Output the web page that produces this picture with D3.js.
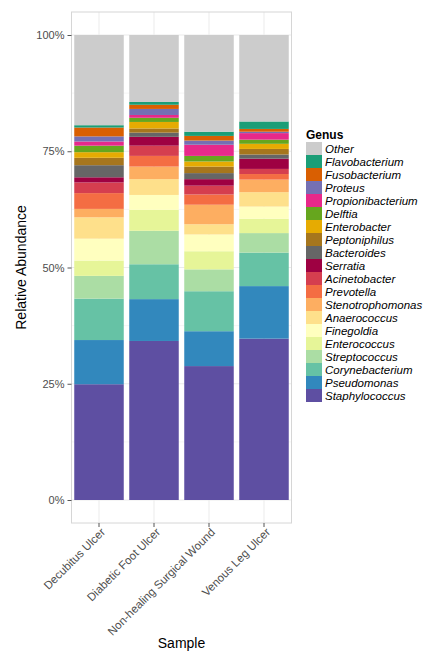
<!DOCTYPE html>
<html>
<head>
<meta charset="utf-8">
<script src="https://cdn.jsdelivr.net/npm/d3@7"></script>
<style>
  body { margin: 0; background: #fff; }
  svg { font-family: "Liberation Sans", Arial, sans-serif; }
</style>
</head>
<body>
<div id="chart"></div>
<script>
const samples = ["Decubitus Ulcer", "Diabetic Foot Ulcer", "Non-healing Surgical Wound", "Venous Leg Ulcer"];

// stacking order, bottom to top
const genera = ["Staphylococcus", "Pseudomonas", "Corynebacterium", "Streptococcus", "Enterococcus",
    "Finegoldia", "Anaerococcus", "Stenotrophomonas", "Prevotella", "Acinetobacter", "Serratia",
    "Bacteroides", "Peptoniphilus", "Enterobacter", "Delftia", "Propionibacterium", "Proteus",
    "Fusobacterium", "Flavobacterium", "Other"];

const generaColors = ["#5E4FA2", "#3288BD", "#66C2A5", "#ABDDA4", "#E6F598",
    "#FFFFBF", "#FEE08B", "#FDAE61", "#F46D43", "#D53E4F", "#9E0142",
    "#666666", "#A6761D", "#E6AB02", "#66A61E", "#E7298A", "#7570B3",
    "#D95F02", "#1B9E77", "#CCCCCC"];

// percent per genus, same order as genera
const decubitus = [24.9, 9.5, 8.9, 4.9, 3.3, 4.7, 4.6, 1.8, 3.4, 2.3, 1.1, 2.6, 1.6, 1.2, 1.4, 0.9, 1.1, 1.9, 0.5, 19.4];
const diabeticFoot = [34.2, 9.0, 7.5, 7.2, 4.5, 3.2, 3.4, 2.7, 2.3, 2.2, 1.9, 0.9, 0.9, 1.4, 0.9, 0.6, 1.3, 0.9, 0.6, 14.4];
const surgicalWound = [28.8, 7.5, 8.6, 4.7, 3.9, 3.6, 2.2, 4.2, 2.2, 1.9, 1.4, 1.3, 1.4, 1.1, 1.2, 2.4, 0.9, 1.0, 0.9, 20.8];
const venousLeg = [34.7, 11.3, 7.2, 4.2, 3.1, 2.6, 3.1, 2.7, 1.2, 1.1, 2.2, 0.9, 1.2, 1.1, 0.9, 1.4, 0.3, 0.6, 1.6, 18.6];

const yTicks = [0, 0.25, 0.5, 0.75, 1];

const svg = d3.select("#chart")
    .append("svg")
    .attr("width", 427)
    .attr("height", 652);

const panel = { left: 71.5, right: 291.5, top: 12, bottom: 523 };

// build rows for d3.stack
const valueRows = [decubitus, diabeticFoot, surgicalWound, venousLeg];
const data = samples.map((s, i) => {
    const row = { sample: s };
    genera.forEach((g, j) => { row[g] = valueRows[i][j] / 100; });
    return row;
});

const series = d3.stack().keys(genera)(data);

const x = d3.scaleBand()
    .domain(samples)
    .range([panel.left, panel.right])
    .paddingInner(0.1)
    .paddingOuter(0.05);

const y = d3.scaleLinear()
    .domain([0, 1])
    .range([500, 35]);

const color = d3.scaleOrdinal().domain(genera).range(generaColors);

// panel background + grid
svg.append("rect")
    .attr("x", panel.left)
    .attr("y", panel.top)
    .attr("width", panel.right - panel.left)
    .attr("height", panel.bottom - panel.top)
    .attr("fill", "#fff");

const grid = svg.append("g");
grid.selectAll(".hgrid")
    .data([0, 0.125, 0.25, 0.375, 0.5, 0.625, 0.75, 0.875, 1])
    .enter().append("line")
    .attr("x1", panel.left).attr("x2", panel.right)
    .attr("y1", d => y(d)).attr("y2", d => y(d))
    .attr("stroke", "#EBEBEB")
    .attr("stroke-width", d => (d * 4) % 1 === 0 ? 1 : 0.5);
grid.selectAll(".vgrid")
    .data(samples)
    .enter().append("line")
    .attr("x1", d => x(d) + x.bandwidth() / 2).attr("x2", d => x(d) + x.bandwidth() / 2)
    .attr("y1", panel.top).attr("y2", panel.bottom)
    .attr("stroke", "#EBEBEB");

// stacked bars
svg.append("g")
    .selectAll("g")
    .data(series)
    .enter().append("g")
    .attr("fill", d => color(d.key))
    .selectAll("rect")
    .data(d => d)
    .enter().append("rect")
    .attr("x", d => x(d.data.sample))
    .attr("y", d => y(d[1]))
    .attr("width", x.bandwidth())
    .attr("height", d => y(d[0]) - y(d[1]));

// panel border
svg.append("rect")
    .attr("x", panel.left)
    .attr("y", panel.top)
    .attr("width", panel.right - panel.left)
    .attr("height", panel.bottom - panel.top)
    .attr("fill", "none")
    .attr("stroke", "#D6D6D6")
    .attr("stroke-width", 1);

// Y axis
const yAxis = svg.append("g")
    .attr("transform", `translate(${panel.left},0)`)
    .call(d3.axisLeft(y).tickValues(yTicks).tickFormat(d3.format(".0%")).tickSize(4).tickPadding(3));
yAxis.select(".domain").remove();
yAxis.selectAll("line").attr("stroke", "#555");
yAxis.selectAll("text")
    .attr("fill", "#4D4D4D")
    .style("font-size", "11px")
    .style("font-family", "Liberation Sans, Arial, sans-serif");

// X axis
const xAxis = svg.append("g")
    .attr("transform", `translate(0,${panel.bottom})`)
    .call(d3.axisBottom(x).tickSize(4));
xAxis.select(".domain").remove();
xAxis.selectAll("line").attr("stroke", "#555");
xAxis.selectAll("text")
    .attr("fill", "#4D4D4D")
    .style("font-size", "11.5px")
    .style("font-family", "Liberation Sans, Arial, sans-serif")
    .attr("text-anchor", "end")
    .attr("transform", "translate(4,7)rotate(-45)")
    .attr("dy", "0.35em")
    .attr("y", 0)
    .attr("x", 0);

// axis titles
svg.append("text")
    .attr("transform", `translate(26,${(panel.top + panel.bottom) / 2})rotate(-90)`)
    .attr("text-anchor", "middle")
    .style("font-size", "14px")
    .attr("fill", "#000")
    .text("Relative Abundance");

svg.append("text")
    .attr("x", (panel.left + panel.right) / 2)
    .attr("y", 648)
    .attr("text-anchor", "middle")
    .style("font-size", "14px")
    .attr("fill", "#000")
    .text("Sample");

// legend
const legend = svg.append("g").attr("transform", "translate(306,142)");
legend.append("text")
    .attr("x", 0)
    .attr("y", -3)
    .style("font-size", "12px")
    .style("font-weight", "bold")
    .text("Genus");

const keyH = 13;
const items = legend.selectAll(".item")
    .data(genera.slice().reverse())
    .enter().append("g")
    .attr("transform", (d, i) => `translate(0,${i * keyH})`);
items.append("rect")
    .attr("width", 16)
    .attr("height", keyH)
    .attr("fill", d => color(d));
items.append("text")
    .attr("x", 19)
    .attr("y", keyH / 2)
    .attr("dy", "0.35em")
    .style("font-size", "11.5px")
    .style("font-style", "italic")
    .text(d => d);
</script>
</body>
</html>
